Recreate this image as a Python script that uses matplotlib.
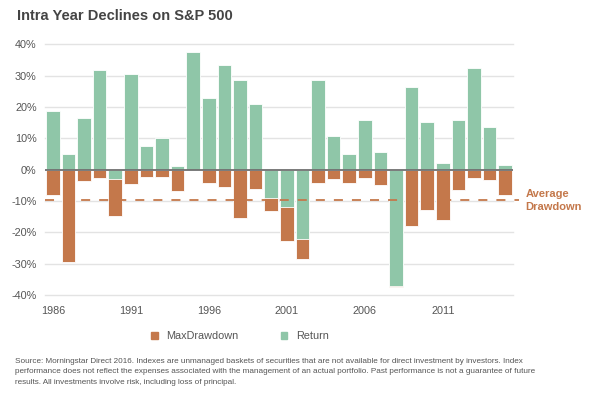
import matplotlib
matplotlib.use("Agg")
import matplotlib.pyplot as plt
from matplotlib.patches import Patch
import numpy as np

years = list(range(1986, 2016))
returns = [18.6, 5.0, 16.6, 31.7, -3.1, 30.6, 7.6, 10.0, 1.3, 37.6,
           23.0, 33.4, 28.6, 21.0, -9.1, -11.9, -22.1, 28.7, 10.9, 4.9,
           15.8, 5.5, -37.0, 26.5, 15.1, 2.1, 16.0, 32.4, 13.7, 1.4]
max_drawdown = [-8.1, -29.5, -3.7, -2.7, -14.7, -4.6, -2.4, -2.4, -6.8, -0.1,
                -4.4, -5.4, -15.3, -6.3, -13.1, -22.9, -28.4, -4.1, -3.1, -4.1,
                -2.6, -4.8, -37.6, -17.9, -12.8, -16.2, -6.4, -2.5, -3.4, -8.1]
tick_years = [1986, 1991, 1996, 2001, 2006, 2011]
yticks = [-40, -30, -20, -10, 0, 10, 20, 30, 40]

avg_dd = float(np.mean(max_drawdown))

GREEN = "#8fc6a8"
ORANGE = "#c4784b"
TXT = "#555555"

plt.rcParams['font.family'] = ['Liberation Sans', 'DejaVu Sans']

fig = plt.figure(figsize=(5.94, 3.96), dpi=100)
ax = fig.add_axes([0.0758, 0.255, 0.7878, 0.633])

x = np.arange(len(years))
ax.bar(x, max_drawdown, width=0.88, color=ORANGE, edgecolor="white", linewidth=0.6, zorder=2)
ax.bar(x, returns, width=0.88, color=GREEN, edgecolor="white", linewidth=0.6, zorder=3)

ax.set_xlim(-0.5, len(years) - 0.5)
ax.set_ylim(-40, 40)

for v in yticks:
    if v != 0:
        ax.axhline(v, color="#e3e3e3", linewidth=1.0, zorder=0, clip_on=False)
ax.axhline(0, color="#707070", linewidth=1.3, zorder=4)

ax.plot([-0.5, len(years) - 0.1], [avg_dd, avg_dd], color=ORANGE, linewidth=1.3,
        dashes=(5, 5), zorder=5, clip_on=False)
ax.text(len(years) + 0.3, avg_dd, "Average\nDrawdown", color=ORANGE, fontsize=8,
        fontweight="bold", ha="left", va="center", linespacing=1.3)

ax.set_yticks(yticks)
ax.set_yticklabels([f"{v}%" for v in yticks], color=TXT, fontsize=7.8)
ax.set_xticks([years.index(y) for y in tick_years])
ax.set_xticklabels([str(y) for y in tick_years], color=TXT, fontsize=7.8)
ax.tick_params(axis="both", length=0, pad=6)
ax.tick_params(axis="x", pad=8)
for s in ax.spines.values():
    s.set_visible(False)

fig.text(0.029, 0.96, "Intra Year Declines on S&P 500", fontsize=10.5, fontweight="bold",
         color="#444444", ha="left", va="center")

handles = [Patch(color=ORANGE, label="MaxDrawdown"), Patch(color=GREEN, label="Return")]
leg = fig.legend(handles=handles, loc="center", bbox_to_anchor=(0.404, 0.151), ncol=2,
                 frameon=False, fontsize=7.8, handlelength=0.6, handleheight=0.6,
                 columnspacing=3.85, handletextpad=0.8)
for t in leg.get_texts():
    t.set_color(TXT)

foot = ("Source: Morningstar Direct 2016. Indexes are unmanaged baskets of securities that are not available for direct investment by investors. Index\n"
        "performance does not reflect the expenses associated with the management of an actual portfolio. Past performance is not a guarantee of future\n"
        "results. All investments involve risk, including loss of principal.")
fig.text(0.025, 0.061, foot, fontsize=5.85, color="#555555", ha="left", va="center",
         linespacing=1.75, family=['Liberation Sans Narrow', 'Liberation Sans', 'DejaVu Sans'])

fig.savefig("out.png", dpi=100, facecolor="white")
